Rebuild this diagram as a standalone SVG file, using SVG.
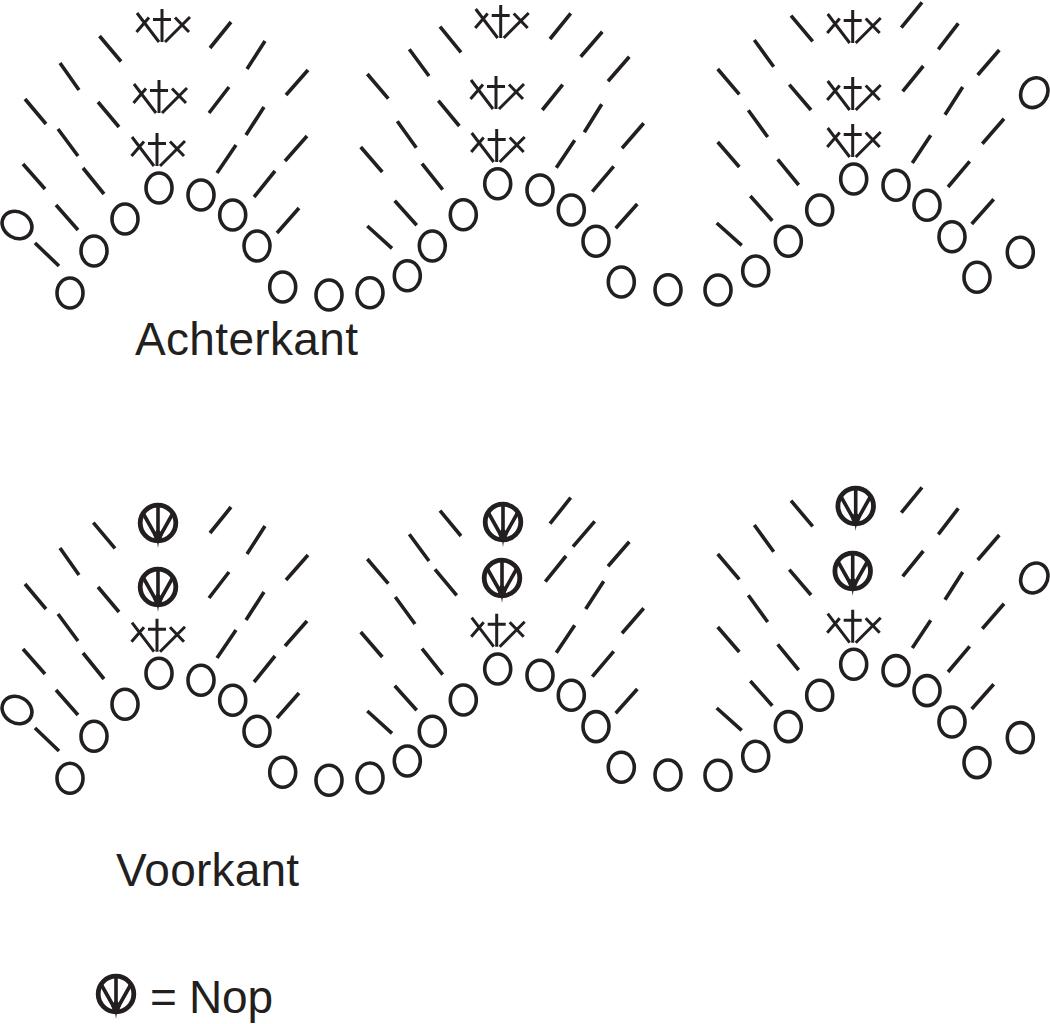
<svg xmlns="http://www.w3.org/2000/svg" xmlns:xlink="http://www.w3.org/1999/xlink" width="1050" height="1024" viewBox="0 0 1050 1024">
<style>
.t{fill:none;stroke:#231f20;stroke-width:3.6;stroke-linecap:butt}
.s{fill:none;stroke:#231f20;stroke-width:3}
.o{fill:none;stroke:#231f20;stroke-width:3.6}
.n{fill:none;stroke:#231f20}
.l{font-family:"Liberation Sans",Arial,sans-serif;font-size:46px;fill:#231f20}
</style>
<defs>
<g id="st">
<path class="s" d="M0-33V0M-9-22.500H9M-25-29L-3 0M-25.500-10L-13-24.500M28-25L3 0M13-24.500L27-10"/>
</g>
<g id="nop">
<circle class="n" r="17.800" stroke-width="4.800"/>
<path class="n" stroke-width="3.600" d="M0-18V15M-14.500-9L-1 15M14.500-9L1 15"/>
<path fill="#231f20" d="M-5 11L0 6L5 11L3 17L1 18L0 25L-1 18L-3 17Z"/>
</g>
<g id="o"><ellipse class="o" rx="13" ry="15"/></g>
</defs>
<rect width="1050" height="1024" fill="#fff"/>
<g id="back">
<path class="t" d="M99.500 36L121 61.500M60 63L79 90M25 99L46 124M98 102L119 127M58 129L78 156M23 164L45 189M83 168L104 194M56 205L78 230M35 243L59 266M210 48L231 22M247 69L265 41M286 95L308 70M209 113L229 87M246 135L264 107M285 161L307 136M217 173L236 145M254 197L275 171M277 233L299 208"/>
<path class="t" d="M440 26.700L461 52.300M409.300 49.300L429 76M367.300 74L388.300 98.700M438.300 100.700L459.300 126M397.300 121.300L416.300 147.700M360.700 147L382.300 172M422 163.700L442.700 189.700M394.700 200.700L416.700 225.300M367.300 226L392 248.300M550 39L570.700 13.300M580.700 56.700L602.300 31.700M608 81.300L629.300 56.700M542.300 110L562.700 84.700M584.300 132.300L601.700 104.300M622 148.300L643.700 123.300M556.300 167.700L574.700 140.300M592.300 191.700L613.700 166.300M615.700 228.300L637.300 204"/>
<path class="t" d="M791 15.700L812.700 41.300M754.300 40L773.700 66.700M717.700 69L739.300 94.300M789.300 84.700L811 110M748.300 110.300L767.700 137M717.700 142L739.300 167M777.700 159.300L798.700 185M750.300 196L772.300 220.700M716.700 223L741.700 245.300M901.300 27.700L922 2.300M938.300 49.300L958.300 23.300M977.700 75L999.300 50M902.700 91.300L923.300 66M945 114.700L962.700 87M982.300 143.700L1004 118.700M912.300 163L930.700 135.300M948 187L969.700 161.300M971.700 224L993.700 199.300"/>
<use xlink:href="#st" href="#st" x="162" y="42"/>
<use xlink:href="#st" href="#st" x="159" y="113"/>
<use xlink:href="#st" href="#st" x="157" y="166"/>
<use xlink:href="#st" href="#st" x="500.700" y="38"/>
<use xlink:href="#st" href="#st" x="496" y="109"/>
<use xlink:href="#st" href="#st" x="496.700" y="162"/>
<use xlink:href="#st" href="#st" x="852.700" y="43"/>
<use xlink:href="#st" href="#st" x="852.700" y="110"/>
<use xlink:href="#st" href="#st" x="852.700" y="157"/>
<g id="back-rings">
<ellipse class="o" cx="17" cy="225" rx="13" ry="15.500" transform="rotate(-60 17 225)"/>
<use xlink:href="#o" href="#o" x="70" y="293"/>
<use xlink:href="#o" href="#o" x="94" y="251"/>
<use xlink:href="#o" href="#o" x="125" y="219"/>
<use xlink:href="#o" href="#o" x="159" y="188"/>
<use xlink:href="#o" href="#o" x="201" y="195"/>
<use xlink:href="#o" href="#o" x="232.700" y="215"/>
<use xlink:href="#o" href="#o" x="257" y="246"/>
<use xlink:href="#o" href="#o" x="282.700" y="287"/>
<use xlink:href="#o" href="#o" x="329" y="295"/>
<use xlink:href="#o" href="#o" x="370" y="292.700"/>
<use xlink:href="#o" href="#o" x="407.300" y="275.700"/>
<use xlink:href="#o" href="#o" x="432.300" y="246"/>
<use xlink:href="#o" href="#o" x="463.300" y="214.700"/>
<use xlink:href="#o" href="#o" x="497.700" y="183.700"/>
<use xlink:href="#o" href="#o" x="540" y="190"/>
<use xlink:href="#o" href="#o" x="571.300" y="210"/>
<use xlink:href="#o" href="#o" x="596" y="241.300"/>
<use xlink:href="#o" href="#o" x="621.300" y="282"/>
<use xlink:href="#o" href="#o" x="668" y="289.700"/>
<use xlink:href="#o" href="#o" x="718" y="290"/>
<use xlink:href="#o" href="#o" x="755.700" y="271"/>
<use xlink:href="#o" href="#o" x="788.300" y="241.300"/>
<use xlink:href="#o" href="#o" x="819.700" y="210"/>
<use xlink:href="#o" href="#o" x="853.700" y="179"/>
<use xlink:href="#o" href="#o" x="896" y="185.300"/>
<use xlink:href="#o" href="#o" x="927" y="205.300"/>
<use xlink:href="#o" href="#o" x="952" y="236.700"/>
<use xlink:href="#o" href="#o" x="977" y="277.300"/>
<use xlink:href="#o" href="#o" x="1020.300" y="252.300"/>
<ellipse class="o" cx="1034.300" cy="92.700" rx="13" ry="15.500" transform="rotate(30 1034.300 92.700)"/>
</g>
<text class="l" x="135" y="355" textLength="223">Achterkant</text>
</g>
<g id="front">
<path class="t" d="M93.300 522.700L115 548.300M60 548L79 575M25 584L46 609M98 587L119 612M58 614L78 641M23 649L45 674M83 653L104 679M56 690L78 715M35 728L59 751M210 533L231 507M247 554L265 526M286 580L308 555M209 598L229 572M246 620L264 592M285 646L307 621M217 658L236 630M254 682L275 656M277 718L299 693"/>
<path class="t" d="M440 510.700L461 536M409.300 534.300L429 561M367.300 559L388.300 583.700M435 569.300L456.700 595.300M395.300 597L415 624M360.700 632L382.300 657M422 648.700L442.700 674.700M394.700 685.700L416.700 710.300M367.300 711L392 733.300M550 523.700L570.700 497.700M573 546.700L594.700 521.300M608 566.300L629.300 541.700M545.300 581.700L566 556M585.700 609L603.700 581.300M622 633.300L643.700 608.300M556.300 652.700L574.700 625.300M592.300 676.700L613.700 651.300M615.700 713.300L637.300 689"/>
<path class="t" d="M791 500.700L812.700 526.300M754.300 525L773.700 551.700M717.700 554L739.300 579.300M789.300 569.700L811 595M748.300 595.300L767.700 622M717.700 627L739.300 652M777.700 644.300L798.700 670M750.300 681L772.300 705.700M716.700 708L741.700 730.300M901.300 512.700L922 487.300M938.300 534.300L958.300 508.300M977.700 560L999.300 535M902.700 576.300L923.300 551M945 599.700L962.700 572M982.300 628.700L1004 603.700M912.300 648L930.700 620.300M948 672L969.700 646.300M971.700 709L993.700 684.300"/>
<use xlink:href="#st" href="#st" x="157" y="651.700"/>
<use xlink:href="#st" href="#st" x="496.700" y="646.700"/>
<use xlink:href="#st" href="#st" x="852.700" y="642.700"/>
<use xlink:href="#nop" href="#nop" x="158" y="523"/>
<use xlink:href="#nop" href="#nop" x="158" y="587"/>
<use xlink:href="#nop" href="#nop" x="503" y="522"/>
<use xlink:href="#nop" href="#nop" x="502" y="578"/>
<use xlink:href="#nop" href="#nop" x="855.700" y="506"/>
<use xlink:href="#nop" href="#nop" x="852.700" y="571"/>
<g id="front-rings">
<ellipse class="o" cx="17" cy="710" rx="13" ry="15.500" transform="rotate(-60 17 710)"/>
<use xlink:href="#o" href="#o" x="70" y="778.300"/>
<use xlink:href="#o" href="#o" x="94" y="736.300"/>
<use xlink:href="#o" href="#o" x="125" y="704.300"/>
<use xlink:href="#o" href="#o" x="159" y="673.300"/>
<use xlink:href="#o" href="#o" x="201" y="680.300"/>
<use xlink:href="#o" href="#o" x="232.700" y="700.300"/>
<use xlink:href="#o" href="#o" x="257" y="731.300"/>
<use xlink:href="#o" href="#o" x="282.700" y="772.300"/>
<use xlink:href="#o" href="#o" x="329" y="780.300"/>
<use xlink:href="#o" href="#o" x="370" y="778"/>
<use xlink:href="#o" href="#o" x="407.300" y="761"/>
<use xlink:href="#o" href="#o" x="432.300" y="731.300"/>
<use xlink:href="#o" href="#o" x="463.300" y="700"/>
<use xlink:href="#o" href="#o" x="497.700" y="669"/>
<use xlink:href="#o" href="#o" x="540" y="675.300"/>
<use xlink:href="#o" href="#o" x="571.300" y="695.300"/>
<use xlink:href="#o" href="#o" x="596" y="726.600"/>
<use xlink:href="#o" href="#o" x="621.300" y="767.300"/>
<use xlink:href="#o" href="#o" x="668" y="775"/>
<use xlink:href="#o" href="#o" x="718" y="775.300"/>
<use xlink:href="#o" href="#o" x="755.700" y="756.300"/>
<use xlink:href="#o" href="#o" x="788.300" y="726.600"/>
<use xlink:href="#o" href="#o" x="819.700" y="695.300"/>
<use xlink:href="#o" href="#o" x="853.700" y="664.300"/>
<use xlink:href="#o" href="#o" x="896" y="670.600"/>
<use xlink:href="#o" href="#o" x="927" y="690.600"/>
<use xlink:href="#o" href="#o" x="952" y="722"/>
<use xlink:href="#o" href="#o" x="977" y="762.600"/>
<use xlink:href="#o" href="#o" x="1020.300" y="737.600"/>
<ellipse class="o" cx="1034.300" cy="578" rx="13" ry="15.500" transform="rotate(30 1034.300 578)"/>
</g>
<text class="l" x="116" y="886" textLength="183">Voorkant</text>
</g>
<g id="legend">
<use xlink:href="#nop" href="#nop" x="116" y="994"/>
<text class="l" x="150" y="1013" textLength="123">= Nop</text>
</g>
</svg>
